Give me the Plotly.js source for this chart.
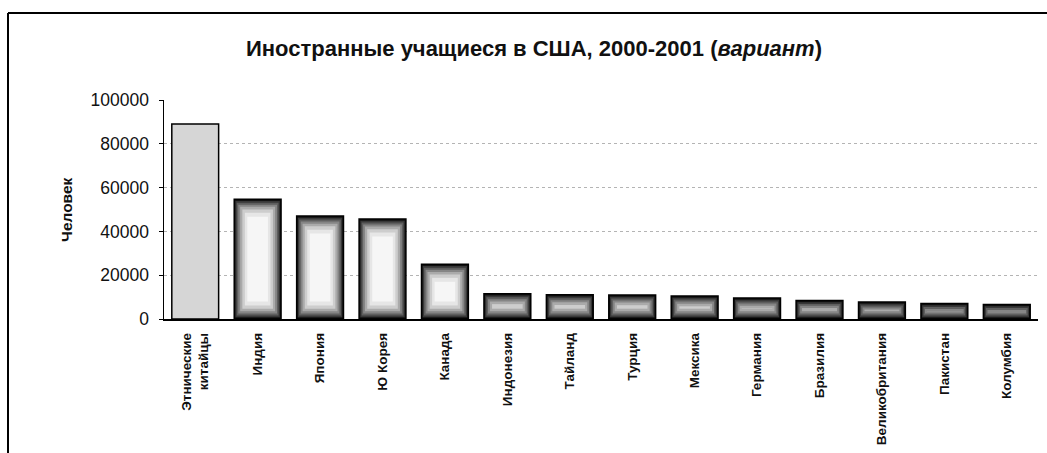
<!DOCTYPE html>
<html>
<head>
<meta charset="utf-8">
<script src="https://cdn.plot.ly/plotly-3.0.1.min.js"></script>
<style>html,body{margin:0;padding:0;background:#fff;}#chart{width:1047px;height:453px;}</style>
</head>
<body>
<div id="chart"></div>
<script>
var categories = ["Этнические<br>китайцы","Индия","Япония","Ю Корея","Канада","Индонезия","Тайланд","Турция","Мексика","Германия","Бразилия","Великобритания","Пакистан","Колумбия"];
var students = [89000, 54700, 47000, 45700, 25000, 11500, 11100, 11000, 10500, 9600, 8500, 7800, 7100, 6600];
var yTicks = [0, 20000, 40000, 60000, 80000, 100000];

// shading layers to imitate the dark rim / light centre of the original bars
var layers = [
  {w: 0.75, inset: 0,    color: "#111111"},
  {w: 0.71, inset: 800,  color: "#383838"},
  {w: 0.67, inset: 1600, color: "#5e5e5e"},
  {w: 0.62, inset: 2500, color: "#858585"},
  {w: 0.56, inset: 3500, color: "#aaaaaa"},
  {w: 0.49, inset: 4700, color: "#cdcdcd"},
  {w: 0.41, inset: 6200, color: "#e6e6e6"},
  {w: 0.33, inset: 8000, color: "#f6f6f6"}
];
var traces = [];
layers.forEach(function(L, li){
  var ys = [], bs = [], cs = [];
  students.forEach(function(v, i){
    if (i === 0) {
      ys.push(li === 0 ? v : null); bs.push(0); cs.push("#d6d6d6");
      return;
    }
    var h = v - 2*L.inset;
    if (h > 0) { ys.push(h); bs.push(L.inset); } else { ys.push(null); bs.push(0); }
    cs.push(L.color);
  });
  traces.push({
    type: "bar", x: categories, y: ys, base: bs, width: L.w,
    marker: {color: cs, line: {width: li === 0 ? 1.5 : 0, color: "#000"}},
    hoverinfo: "skip", showlegend: false
  });
});

var layout = {
  width: 1047, height: 453,
  margin: {l: 164, r: 9, t: 100, b: 134},
  paper_bgcolor: "#fff", plot_bgcolor: "#fff",
  barmode: "overlay",
  font: {family: "Liberation Sans, Arial, sans-serif", color: "#111"},
  title: {
    text: "<b>Иностранные учащиеся в США, 2000-2001 (<i>вариант</i>)</b>",
    font: {size: 22, color: "#111"},
    x: 534/1047, xref: "container", xanchor: "center",
    y: 1 - 48/453, yref: "container", yanchor: "middle"
  },
  xaxis: {
    type: "category", showgrid: false, zeroline: false,
    showline: true, linecolor: "#000", linewidth: 1.5,
    ticks: "", tickangle: -90, ticklabelstandoff: 7,
    tickfont: {size: 13.5, weight: "bold", color: "#111"},
    fixedrange: true
  },
  yaxis: {
    range: [0, 100000], tickvals: yTicks, ticktext: yTicks.map(String),
    showgrid: true, gridcolor: "#b4b4b4", griddash: "dot", gridwidth: 1,
    zeroline: false, showline: true, linecolor: "#000", linewidth: 1.5,
    ticks: "outside", ticklen: 4, tickcolor: "#000",
    ticklabelstandoff: 6,
    tickfont: {size: 17.5, color: "#111"},
    fixedrange: true
  },
  annotations: [{
    text: "<b>Человек</b>", xref: "paper", yref: "paper",
    x: (66-164)/874, y: (319-210)/219, xanchor: "center", yanchor: "middle",
    textangle: -90, showarrow: false, font: {size: 15.5, color: "#111"}
  }],
  shapes: [
    {type: "line", xref: "paper", yref: "paper", x0: (8-164)/874, x1: (1047-164)/874, y0: (319-13)/219, y1: (319-13)/219, line: {color: "#000", width: 2}},
    {type: "line", xref: "paper", yref: "paper", x0: (8-164)/874, x1: (8-164)/874, y0: (319-13)/219, y1: (319-453)/219, line: {color: "#000", width: 2}}
  ]
};
Plotly.newPlot("chart", traces, layout, {displayModeBar: false, staticPlot: true});
</script>
</body>
</html>
